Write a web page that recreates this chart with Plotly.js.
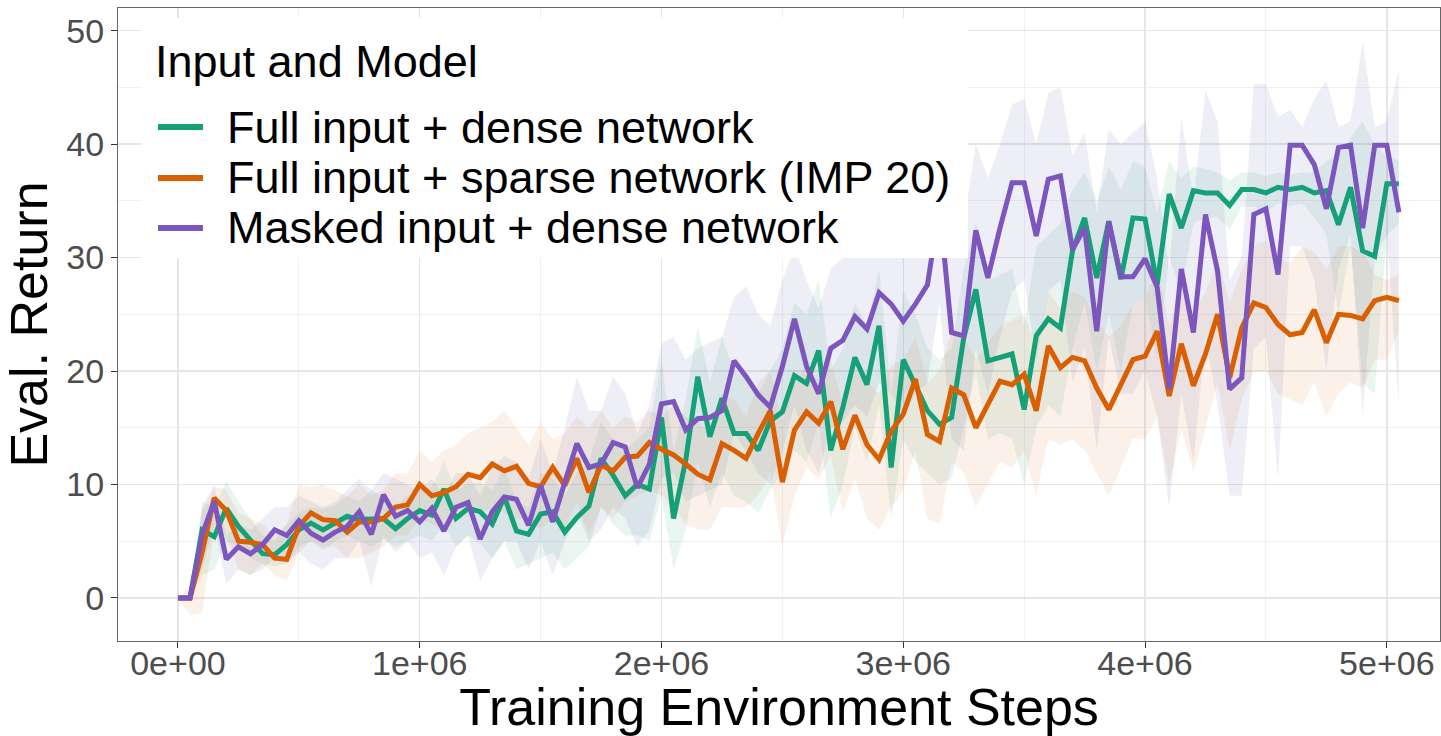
<!DOCTYPE html>
<html>
<head>
<meta charset="utf-8">
<script src="https://cdn.plot.ly/plotly-3.0.1.min.js"></script>
<style>
  html, body { margin: 0; padding: 0; background: #ffffff; }
  #chart { width: 1441px; height: 736px; }
</style>
</head>
<body>
<div id="chart"></div>
<script>
// Evaluation is run every 50k environment steps.
const evalInterval = 50000;

// Full input + dense network
const denseMean = [0, 0, 6.0, 5.4, 7.9, 6.3, 5.1, 3.9, 3.8, 4.7, 6.0, 6.6, 6.0, 6.6, 7.2, 6.9, 6.9, 7.0, 6.1, 7.0,
  7.7, 7.3, 9.6, 7.0, 7.9, 7.6, 6.5, 8.9, 5.9, 5.6, 7.4, 7.6, 5.8, 7.1, 8.1, 12.3, 10.8, 9.0, 10.0, 9.6,
  15.9, 7.0, 12.1, 19.5, 14.2, 17.6, 14.5, 14.5, 13.0, 15.6, 16.4, 19.6, 18.9, 21.8, 13.0, 16.8, 21.2, 18.8, 24.0, 11.5,
  21.0, 18.8, 16.5, 15.3, 15.9, 22.9, 27.2, 20.9, 21.2, 21.5, 16.6, 23.1, 24.6, 23.8, 30.6, 33.5, 28.2, 33.2, 28.1, 33.5,
  33.4, 27.6, 35.6, 32.6, 35.9, 35.7, 35.7, 34.6, 36.0, 36.0, 35.7, 36.2, 36.0, 36.2, 35.7, 35.9, 32.9, 36.2, 30.6, 30.1,
  36.5, 36.5];
const denseLow = [0, 0, 2.0, 2.5, 5.0, 4.5, 3.5, 3.0, 2.8, 3.0, 4.5, 5.0, 4.2, 5.0, 5.5, 5.0, 4.5, 5.2, 4.5, 5.0,
  5.5, 5.0, 6.5, 4.5, 5.5, 4.8, 3.5, 5.0, 2.5, 3.0, 3.5, 4.0, 2.5, 3.5, 4.5, 8.0, 6.5, 5.5, 5.5, 5.0,
  9.0, 2.5, 6.0, 12.0, 8.0, 11.0, 9.0, 8.5, 7.5, 9.5, 11.0, 13.0, 12.0, 15.5, 7.0, 10.0, 15.0, 12.0, 17.0, 7.0,
  14.0, 12.0, 11.0, 10.0, 10.5, 15.0, 20.0, 14.0, 14.5, 14.0, 10.0, 15.0, 17.0, 16.0, 22.0, 26.0, 20.0, 25.0, 20.0, 26.0,
  26.5, 21.0, 30.0, 27.0, 33.0, 33.5, 33.5, 32.5, 34.5, 34.5, 34.0, 34.8, 34.5, 34.8, 33.5, 32.0, 25.0, 31.0, 19.0, 18.0,
  32.0, 33.0];
const denseHigh = [0, 0, 8.5, 8.0, 10.3, 8.5, 7.0, 5.5, 5.0, 6.5, 7.5, 8.0, 7.8, 8.2, 9.0, 8.5, 9.5, 8.8, 8.0, 9.0,
  9.5, 9.8, 12.0, 9.5, 10.0, 10.2, 9.5, 11.5, 8.5, 8.0, 11.0, 10.5, 9.0, 11.0, 12.0, 15.5, 14.0, 13.0, 14.0, 15.0,
  21.0, 13.0, 17.5, 24.0, 19.0, 23.0, 20.0, 19.5, 18.0, 20.0, 22.0, 26.0, 25.0, 28.0, 20.0, 22.0, 26.0, 24.0, 29.0, 18.0,
  27.0, 25.0, 22.0, 21.0, 22.0, 29.0, 33.0, 28.0, 28.5, 29.0, 24.0, 31.0, 32.0, 33.0, 36.0, 37.5, 35.0, 38.0, 36.0, 38.5,
  38.0, 34.0, 38.5, 37.0, 38.0, 37.8, 37.5, 36.8, 37.5, 37.5, 37.2, 37.5, 37.3, 37.5, 37.5, 38.5, 39.0, 40.5, 42.0, 40.0,
  39.0, 38.5];

// Full input + sparse network (IMP 20)
const sparseMean = [0, 0, 4.0, 8.8, 7.7, 5.0, 4.9, 4.7, 3.5, 3.4, 6.3, 7.5, 6.9, 6.8, 5.8, 6.7, 6.7, 7.0, 8.0, 8.2,
  10.0, 9.0, 9.3, 9.8, 10.9, 10.6, 11.8, 11.2, 11.6, 10.1, 9.8, 11.5, 9.9, 12.3, 9.3, 11.7, 11.2, 12.4, 12.5, 13.7,
  13.1, 12.6, 11.8, 10.9, 10.4, 13.6, 13.0, 12.3, 14.5, 16.5, 10.2, 14.8, 16.4, 15.4, 17.3, 13.1, 16.1, 13.5, 12.2, 14.7,
  16.2, 19.3, 14.4, 13.8, 18.5, 17.9, 15.0, 17.1, 19.1, 18.8, 19.7, 16.5, 22.2, 20.3, 21.2, 20.9, 18.5, 16.6, 18.8, 21.0,
  21.3, 23.5, 17.8, 22.4, 18.7, 21.5, 25.0, 19.4, 23.8, 26.0, 25.6, 24.1, 23.2, 23.4, 25.4, 22.5, 25.0, 24.9, 24.6, 26.2,
  26.5, 26.2];
const sparseLow = [0, -1.5, -1.3, 6.0, 5.5, 2.5, 2.0, 3.0, 2.0, 1.5, 4.0, 5.0, 4.5, 4.5, 3.5, 3.5, 4.0, 4.5, 5.5, 5.5,
  7.0, 6.5, 6.0, 7.0, 7.5, 7.5, 8.0, 7.5, 7.0, 7.0, 6.0, 7.0, 6.0, 8.5, 5.5, 8.0, 7.0, 8.5, 9.0, 9.5,
  9.0, 8.0, 6.5, 6.0, 6.0, 8.0, 8.0, 8.0, 9.0, 11.0, 4.5, 9.0, 11.5, 10.5, 12.5, 7.5, 10.5, 7.0, 6.0, 8.0,
  9.5, 13.0, 7.0, 6.5, 12.0, 11.0, 8.0, 10.0, 12.0, 11.5, 13.0, 9.0, 14.0, 13.5, 14.0, 13.0, 11.0, 9.0, 11.5, 14.0,
  14.0, 16.0, 10.0, 15.0, 11.0, 15.0, 19.0, 13.0, 17.5, 20.0, 20.0, 18.0, 17.5, 17.0, 19.0, 16.0, 18.0, 19.0, 18.5, 21.0,
  21.0, 23.5];
const sparseHigh = [0, 1.0, 7.5, 9.8, 9.5, 7.5, 7.0, 6.5, 5.5, 6.5, 10.0, 9.8, 10.0, 9.5, 9.0, 10.0, 9.0, 9.5, 11.0, 11.0,
  13.0, 12.0, 13.0, 13.5, 14.5, 15.0, 15.5, 16.5, 15.0, 13.5, 15.5, 14.0, 14.5, 16.0, 15.0, 16.5, 15.0, 16.0, 15.5, 16.5,
  16.0, 17.0, 16.0, 15.5, 14.5, 18.0, 17.5, 16.0, 19.0, 20.0, 15.5, 19.0, 20.5, 19.0, 21.0, 17.0, 20.0, 19.0, 18.0, 20.5,
  21.0, 23.0, 19.0, 20.0, 23.5, 23.0, 21.0, 22.5, 24.0, 24.5, 25.0, 22.0, 27.0, 25.5, 27.0, 26.5, 24.5, 23.0, 24.0, 26.0,
  26.5, 29.0, 24.0, 28.0, 25.0, 27.0, 30.0, 26.0, 29.0, 31.0, 31.5, 30.0, 29.5, 31.0, 30.5, 29.0, 31.0, 31.0, 30.5, 28.5,
  28.0, 28.5];

// Masked input + dense network
const maskedMean = [0, 0, 5.6, 8.5, 3.4, 4.5, 3.9, 4.7, 6.0, 5.5, 6.8, 5.7, 5.1, 5.8, 6.3, 7.6, 5.6, 9.1, 7.2, 7.7,
  6.7, 7.9, 5.9, 8.0, 8.4, 5.2, 7.6, 8.9, 8.7, 6.4, 9.9, 6.7, 10.2, 13.6, 11.5, 11.8, 13.7, 13.3, 9.7, 11.8,
  17.1, 17.3, 14.8, 15.8, 15.9, 16.5, 20.9, 19.5, 17.9, 16.8, 20.4, 24.6, 20.4, 18.0, 22.0, 22.7, 24.8, 23.7, 26.9, 25.9,
  24.4, 25.9, 27.6, 34.5, 23.4, 23.1, 32.4, 28.2, 32.6, 36.6, 36.6, 31.9, 36.9, 37.2, 30.7, 32.6, 23.5, 33.2, 28.3, 28.3,
  29.9, 27.4, 18.4, 29.0, 23.4, 33.8, 28.8, 18.4, 19.4, 33.8, 34.3, 28.5, 39.9, 39.9, 38.2, 34.3, 39.7, 39.9, 32.6, 39.9,
  39.9, 34.0];
const maskedLow = [0, 0, 2.5, 6.5, 1.2, 2.5, 2.0, 2.5, 3.5, 3.0, 4.0, 3.0, 2.5, 3.5, 3.5, 5.0, 1.0, 5.5, 4.0, 5.0,
  3.5, 4.0, 2.0, 4.5, 5.5, 1.5, 3.5, 5.0, 5.0, 2.5, 5.0, 2.0, 5.0, 7.5, 5.0, 6.0, 8.0, 7.0, 4.5, 6.0,
  10.5, 11.0, 8.5, 9.0, 9.5, 10.0, 14.5, 13.0, 11.0, 10.0, 13.0, 17.0, 13.0, 11.0, 15.0, 15.5, 17.0, 16.0, 19.0, 18.0,
  16.0, 18.0, 19.0, 26.0, 14.0, 13.0, 22.0, 18.0, 23.0, 27.0, 28.0, 21.0, 27.0, 28.0, 19.0, 22.0, 13.0, 23.0, 18.0, 18.0,
  20.0, 16.0, 8.0, 18.0, 12.0, 23.0, 17.0, 9.0, 9.0, 22.0, 23.0, 10.5, 31.0, 31.0, 28.0, 20.0, 29.0, 32.0, 16.0, 30.0,
  32.0, 17.0];
const maskedHigh = [0, 0, 8.0, 10.0, 5.5, 6.5, 6.0, 7.0, 8.0, 8.0, 9.0, 8.5, 8.0, 8.5, 9.5, 10.5, 9.5, 11.0, 10.5, 10.0,
  9.5, 10.5, 9.0, 11.0, 11.0, 9.0, 11.5, 12.5, 12.0, 10.5, 14.0, 11.0, 15.0, 19.5, 16.5, 16.5, 19.5, 18.0, 14.5, 17.0,
  22.5, 23.0, 21.0, 22.0, 22.5, 23.0, 26.5, 27.5, 25.0, 24.0, 28.0, 31.0, 28.0, 25.5, 29.0, 30.0, 32.0, 31.0, 33.0, 33.5,
  32.5, 33.5, 35.0, 41.0, 32.0, 33.0, 40.0, 37.0, 40.0, 43.5, 44.0, 40.0, 44.5, 45.0, 39.0, 41.0, 34.0, 41.3, 40.0, 41.0,
  42.0, 37.0, 29.0, 42.4, 35.0, 44.7, 42.0, 28.0, 30.0, 45.3, 45.3, 42.4, 43.0, 41.5, 44.0, 45.6, 41.5, 42.0, 49.0, 41.5,
  42.0, 46.6];

const seriesNames = [
  'Full input + dense network',
  'Full input + sparse network (IMP 20)',
  'Masked input + dense network'
];
const seriesColors = ['#16A077', '#D95F02', '#7C55BD'];
const bandColors = ['rgba(27,158,119,0.10)', 'rgba(217,95,2,0.09)', 'rgba(117,112,179,0.12)'];
const legendTitle = 'Input and Model';

const xTickValues = [0, 1000000, 2000000, 3000000, 4000000, 5000000];
const xTickLabels = ['0e+00', '1e+06', '2e+06', '3e+06', '4e+06', '5e+06'];
const yTickValues = [0, 10, 20, 30, 40, 50];
const yTickLabels = ['0', '10', '20', '30', '40', '50'];

const steps = denseMean.map((_, i) => i * evalInterval);
const means = [denseMean, sparseMean, maskedMean];
const lows = [denseLow, sparseLow, maskedLow];
const highs = [denseHigh, sparseHigh, maskedHigh];

const font = 'Liberation Sans, Arial, Helvetica, sans-serif';
const traces = [];

// shaded spread for each configuration
for (let s = 0; s < 3; s++) {
  traces.push({
    x: steps, y: lows[s], type: 'scatter', mode: 'lines',
    line: { width: 0, color: bandColors[s] }, showlegend: false, hoverinfo: 'skip'
  });
  traces.push({
    x: steps, y: highs[s], type: 'scatter', mode: 'lines', fill: 'tonexty',
    fillcolor: bandColors[s], line: { width: 0, color: bandColors[s] },
    showlegend: false, hoverinfo: 'skip'
  });
}
// mean return curves
for (let s = 0; s < 3; s++) {
  traces.push({
    x: steps, y: means[s], type: 'scatter', mode: 'lines', name: seriesNames[s],
    line: { width: 5, color: seriesColors[s], shape: 'linear' }, showlegend: false
  });
}

// legend block drawn over the panel (white box, key lines, labels)
const plotLeft = 118, plotTop = 8, plotW = 1322, plotH = 633;
const px = v => (v - plotLeft) / plotW;
const py = v => (plotTop + plotH - v) / plotH;

const shapes = [{
  type: 'rect', xref: 'paper', yref: 'paper', layer: 'above',
  x0: px(141), x1: px(968), y0: py(258), y1: py(18),
  fillcolor: '#ffffff', line: { width: 0 }
}];
const keyRows = [127, 178, 228];
const annotations = [{
  xref: 'paper', yref: 'paper', x: px(153), y: py(61), xanchor: 'left', yanchor: 'middle',
  text: legendTitle, showarrow: false, font: { family: font, size: 45, color: '#000000' }
}];
for (let s = 0; s < 3; s++) {
  shapes.push({
    type: 'line', xref: 'paper', yref: 'paper', layer: 'above',
    x0: px(158), x1: px(203), y0: py(keyRows[s]), y1: py(keyRows[s]),
    line: { color: seriesColors[s], width: 6 }
  });
  annotations.push({
    xref: 'paper', yref: 'paper', x: px(225), y: py(keyRows[s]), xanchor: 'left', yanchor: 'middle',
    text: seriesNames[s], showarrow: false, font: { family: font, size: 45, color: '#000000' }
  });
}

const layout = {
  width: 1441, height: 736,
  margin: { l: plotLeft, r: 1, t: plotTop, b: 95 },
  paper_bgcolor: '#ffffff', plot_bgcolor: '#ffffff',
  showlegend: false,
  font: { family: font },
  xaxis: {
    range: [-248000, 5220000],
    tickmode: 'array', tickvals: xTickValues, ticktext: xTickLabels,
    tickfont: { family: font, size: 34, color: '#4D4D4D' },
    ticks: 'outside', ticklen: 6, tickcolor: '#333333', tickwidth: 1,
    ticklabelstandoff: -14,
    showgrid: true, gridcolor: '#E6E6E6', gridwidth: 1.5,
    minor: { tickmode: 'linear', tick0: 500000, dtick: 1000000, showgrid: true, gridcolor: '#F1F1F1', gridwidth: 1, ticks: '' },
    zeroline: false, showline: true, mirror: true, linecolor: '#666666', linewidth: 1,
    title: { text: 'Training Environment Steps', font: { family: font, size: 52, color: '#000000' }, standoff: 4 },
    automargin: false
  },
  yaxis: {
    range: [-3.8, 52.0],
    tickmode: 'array', tickvals: yTickValues, ticktext: yTickLabels,
    tickfont: { family: font, size: 34, color: '#4D4D4D' },
    ticks: 'outside', ticklen: 6, tickcolor: '#333333', tickwidth: 1,
    showgrid: true, gridcolor: '#E6E6E6', gridwidth: 1.5,
    minor: { tickmode: 'linear', tick0: 5, dtick: 10, showgrid: true, gridcolor: '#F1F1F1', gridwidth: 1, ticks: '' },
    zeroline: false, showline: true, mirror: true, linecolor: '#666666', linewidth: 1,
    title: { text: 'Eval. Return', font: { family: font, size: 52, color: '#000000' }, standoff: 4 },
    automargin: false
  },
  shapes: shapes,
  annotations: annotations
};

Plotly.newPlot('chart', traces, layout, { staticPlot: true, displayModeBar: false });
</script>
</body>
</html>
